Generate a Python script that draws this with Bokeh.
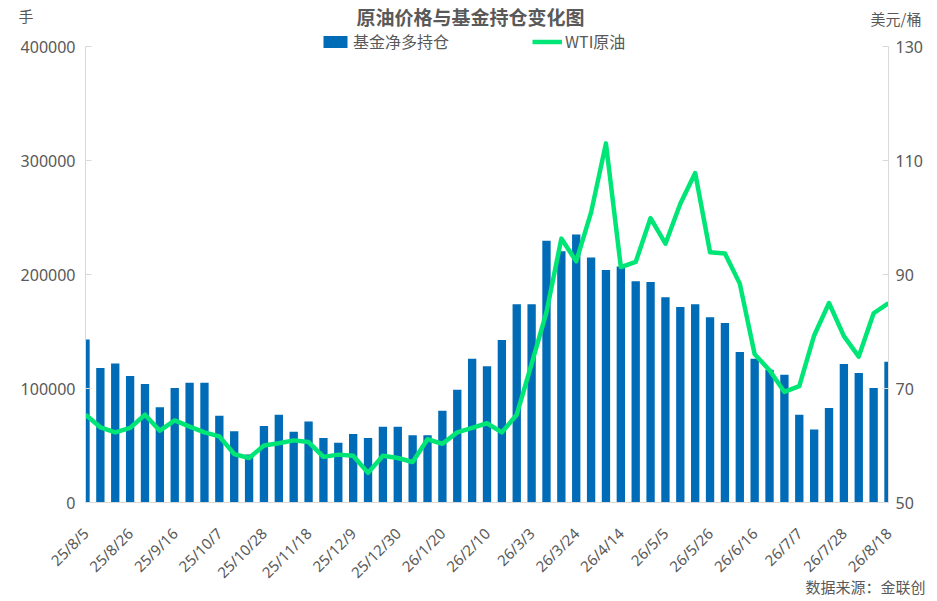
import math
from bokeh.plotting import figure
from bokeh.layouts import column
from bokeh.models import (Range1d, LinearAxis, FixedTicker, Legend,
                          LegendItem, NumeralTickFormatter)
from bokeh.core.properties import value
from bokeh.embed import file_html
from bokeh.resources import INLINE

# ---- data ----
dates = ["25/8/5", "25/8/12", "25/8/19", "25/8/26", "25/9/2", "25/9/9", "25/9/16",
         "25/9/23", "25/9/30", "25/10/7", "25/10/14", "25/10/21", "25/10/28",
         "25/11/4", "25/11/11", "25/11/18", "25/11/25", "25/12/2", "25/12/9",
         "25/12/16", "25/12/23", "25/12/30", "26/1/6", "26/1/13", "26/1/20",
         "26/1/27", "26/2/3", "26/2/10", "26/2/17", "26/2/24", "26/3/3",
         "26/3/10", "26/3/17", "26/3/24", "26/3/31", "26/4/7", "26/4/14",
         "26/4/21", "26/4/28", "26/5/5", "26/5/12", "26/5/19", "26/5/26",
         "26/6/2", "26/6/9", "26/6/16", "26/6/23", "26/6/30", "26/7/7",
         "26/7/14", "26/7/21", "26/7/28", "26/8/4", "26/8/11", "26/8/18"]

net_long = [143000, 118000, 122000, 111000, 104000, 83500, 100500, 105000, 105000,
            76000, 62500, 42000, 67000, 77000, 62000, 71000, 56500, 52500, 60000,
            56500, 66500, 66500, 59000, 59000, 80500, 99000, 126000, 119500, 142500,
            174000, 174000, 229500, 220500, 235000, 215000, 204000, 207000, 194000,
            193500, 180000, 171500, 174000, 162500, 157500, 132000, 126000, 116500,
            112000, 77000, 64000, 83000, 121500, 113500, 100500, 123500]

wti = [65.4, 63.2, 62.3, 63.1, 65.4, 62.6, 64.4, 63.3, 62.3, 61.6, 58.5, 57.8,
       60.0, 60.4, 60.9, 60.6, 58.0, 58.4, 58.2, 55.2, 58.2, 57.8, 57.1, 61.1,
       60.3, 62.3, 63.1, 63.9, 62.3, 65.4, 74.3, 83.4, 96.3, 92.3, 100.9, 113.0,
       91.3, 92.2, 99.9, 95.4, 102.4, 107.8, 93.9, 93.7, 88.4, 76.0, 73.2, 69.4,
       70.4, 79.3, 85.0, 79.2, 75.6, 83.2, 85.0]

left_ticks = [0, 100000, 200000, 300000, 400000]
right_ticks = [50, 70, 90, 110, 130]
label_step = 3

title_text = "原油价格与基金持仓变化图"
left_unit = "手"
right_unit = "美元/桶"
bar_name = "基金净多持仓"
line_name = "WTI原油"
source_text = "数据来源：金联创"

# ---- style / layout ----
CJK = "Noto Sans CJK SC"
NUM = "Noto Sans"
TXT = "#595959"
AX = "#d9d9d9"
BAR = "#006BB6"
GREEN = "#00E676"
W = 936
FL, FR = 85, 888       # frame left / right (page pixels)
HEAD_H = 30
FRAME_H = 472          # frame height of the main plot
PLOT_H = 456           # pixels between 0 and the top tick
BOTTOM = 98
FOOT_H = 27

idx = list(range(len(dates)))


def text_axis(fig, side, tick, label, standoff, size="15px"):
    ax = LinearAxis(ticker=FixedTicker(ticks=[tick]),
                    major_label_overrides={tick: label})
    ax.axis_line_color = None
    ax.major_tick_line_color = None
    ax.minor_tick_line_color = None
    ax.major_tick_in = 0
    ax.major_tick_out = 0
    ax.major_label_standoff = standoff
    ax.major_label_text_font = CJK
    ax.major_label_text_font_size = size
    ax.major_label_text_color = TXT
    fig.add_layout(ax, side)


# ---- header (title and unit labels) ----
head = figure(width=W, height=HEAD_H, output_backend="svg", toolbar_location=None,
              x_range=Range1d(FL, FR), y_range=Range1d(HEAD_H, 0),
              x_axis_type=None, y_axis_type=None, min_border=0,
              min_border_left=FL, min_border_right=W - FR)
head.outline_line_color = None
head.text(x=[470], y=[15.5], text=[title_text], text_font=value(CJK),
          text_font_size="19px", text_font_style="bold", text_color=TXT,
          text_align="center", text_baseline="middle")
text_axis(head, "left", 15, left_unit, FL - 33)
text_axis(head, "right", 18, right_unit, 870 - FR)

# ---- main plot ----
y_top = left_ticks[-1] * FRAME_H / PLOT_H
r_top = right_ticks[0] + (right_ticks[-1] - right_ticks[0]) * FRAME_H / PLOT_H

p = figure(width=W, height=FRAME_H + BOTTOM, output_backend="svg",
           toolbar_location=None,
           x_range=Range1d(0, len(dates) - 1), y_range=Range1d(0, y_top),
           min_border_left=FL, min_border_right=W - FR, min_border_top=0,
           min_border_bottom=BOTTOM)
p.extra_y_ranges = {"price": Range1d(right_ticks[0], r_top)}
p.outline_line_color = None
p.xgrid.visible = False
p.ygrid.visible = False

bars = p.vbar(x=idx, top=net_long, width=0.56, fill_color=BAR, line_color=None)
line = p.line(idx, wti, y_range_name="price", line_color=GREEN, line_width=4.5,
              line_join="round")

xa = p.xaxis[0]
xa.ticker = FixedTicker(ticks=idx[::label_step])
xa.major_label_overrides = {i: dates[i] for i in idx[::label_step]}
xa.major_label_orientation = math.pi / 4
xa.axis_line_color = AX
xa.major_tick_line_color = None
xa.major_tick_out = 0
xa.major_tick_in = 0
xa.minor_tick_line_color = None
xa.major_label_text_font = NUM
xa.major_label_text_font_size = "15px"
xa.major_label_text_color = TXT
xa.major_label_standoff = 28

ya = p.yaxis[0]
ya.ticker = FixedTicker(ticks=left_ticks)
ya.bounds = (left_ticks[0], left_ticks[-1])
ya.formatter = NumeralTickFormatter(format="0")
ya.axis_line_color = AX
ya.major_tick_line_color = AX
ya.major_tick_in = 6
ya.major_tick_out = 0
ya.minor_tick_line_color = None
ya.major_label_text_font = NUM
ya.major_label_text_font_size = "16px"
ya.major_label_text_color = TXT
ya.major_label_standoff = 10

ra = LinearAxis(y_range_name="price", ticker=FixedTicker(ticks=right_ticks))
ra.bounds = (right_ticks[0], right_ticks[-1])
ra.axis_line_color = AX
ra.major_tick_line_color = AX
ra.major_tick_in = 6
ra.major_tick_out = 0
ra.minor_tick_line_color = None
ra.major_label_text_font = NUM
ra.major_label_text_font_size = "16px"
ra.major_label_text_color = TXT
ra.major_label_standoff = 7
p.add_layout(ra, "right")

for item, xpos in ((LegendItem(label=bar_name, renderers=[bars]), 320 - FL),
                   (LegendItem(label=line_name, renderers=[line]), 532 - FL)):
    lg = Legend(items=[item], location=(xpos, 502 - 53), orientation="horizontal",
                border_line_color=None, background_fill_alpha=0, padding=0,
                margin=0, glyph_width=30, glyph_height=15, label_height=15,
                label_standoff=3, label_text_font=CJK,
                label_text_font_size="16px", label_text_color=TXT,
                label_text_baseline="middle")
    p.add_layout(lg, "center")

# ---- footer (source), pulled up over the empty lower margin ----
foot = figure(width=W, height=FOOT_H, output_backend="svg", toolbar_location=None,
              x_range=Range1d(FL, FR), y_range=Range1d(FOOT_H, 0),
              x_axis_type=None, y_axis_type=None, min_border=0,
              min_border_left=FL, min_border_right=W - FR)
foot.outline_line_color = None
foot.background_fill_color = None
foot.border_fill_color = None
foot.margin = (-FOOT_H, 0, 0, 0)
text_axis(foot, "right", 8, source_text, 805 - FR)

layout = column(head, p, foot, spacing=0)
open("out.html", "w").write(file_html(layout, INLINE))
